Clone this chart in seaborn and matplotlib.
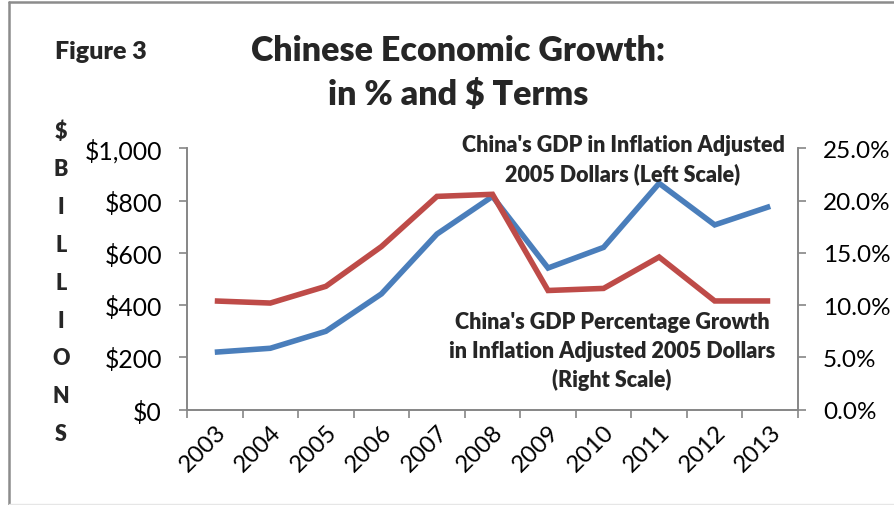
import matplotlib
matplotlib.use("Agg")
import matplotlib.pyplot as plt
import matplotlib.transforms as mtransforms
import seaborn as sns
import pandas as pd
import numpy as np
from matplotlib.lines import Line2D
from matplotlib.ticker import FixedLocator, FuncFormatter

# ---- data ----
years = ["2003", "2004", "2005", "2006", "2007", "2008", "2009", "2010", "2011", "2012", "2013"]
gdp_billions = [220, 235, 300, 443, 672, 816, 542, 621, 866, 707, 778]
growth_pct = [10.4, 10.2, 11.8, 15.6, 20.4, 20.6, 11.4, 11.6, 14.6, 10.4, 10.4]
left_ticks = [0, 200, 400, 600, 800, 1000]
right_ticks = [0, 5, 10, 15, 20, 25]

sns.set_theme(style="white")
plt.rcParams["font.family"] = ["Lato", "DejaVu Sans"]

W, H = 895, 506
fig = plt.figure(figsize=(W / 100, H / 100), dpi=100)

def fx(px):
    return px / W

def fy(py):
    return 1 - py / H

ax_l, ax_r = 187, 798
ax_t, ax_b = 149.3, 410.7
ax = fig.add_axes([fx(ax_l), fy(ax_b), fx(ax_r) - fx(ax_l), (ax_b - ax_t) / H])
ax2 = ax.twinx()

df = pd.DataFrame({"idx": np.arange(len(years)), "year": years,
                   "gdp": gdp_billions, "growth": growth_pct})

blue = "#4A7EBB"
red = "#BE4B48"
sns.lineplot(data=df, x="idx", y="gdp", ax=ax, color=blue, linewidth=4.0,
             solid_joinstyle="miter", solid_capstyle="butt")
sns.lineplot(data=df, x="idx", y="growth", ax=ax2, color=red, linewidth=4.0,
             solid_joinstyle="miter", solid_capstyle="butt")

axis_gray = "#868686"
for a in (ax, ax2):
    a.set_xlim(-0.5, len(years) - 0.5)
    a.set_xlabel("")
    a.set_ylabel("")
    a.grid(False)
    for s in a.spines.values():
        s.set_color(axis_gray)
        s.set_linewidth(1.2)
    a.spines["top"].set_visible(False)

ax.set_ylim(0, 1000)
ax2.set_ylim(0, 25)
ax.set_yticks(left_ticks)
ax.yaxis.set_major_formatter(FuncFormatter(lambda v, p: "${:,.0f}".format(v)))
ax2.set_yticks(right_ticks)
ax2.yaxis.set_major_formatter(FuncFormatter(lambda v, p: "{:.1f}%".format(v)))

ax.tick_params(axis="y", which="major", direction="out", length=6, width=1.2,
               color=axis_gray, pad=12, labelsize=17.8, labelcolor="black", left=True)
ax2.tick_params(axis="y", which="major", direction="out", length=6, width=1.2,
                color=axis_gray, pad=12, labelsize=17.5, labelcolor="black", right=True)

ax.set_xticks(np.arange(len(years)))
ax.set_xticklabels(years)
ax.xaxis.set_minor_locator(FixedLocator(np.arange(-0.5, len(years), 1.0)))
ax.tick_params(axis="x", which="major", length=0, pad=8, labelsize=17.2, labelcolor="black")
ax.tick_params(axis="x", which="minor", direction="out", length=6, width=1.2,
               color=axis_gray, bottom=True)
offset = mtransforms.ScaledTranslation(0 / 100, 0, fig.dpi_scale_trans)
for lab in ax.get_xticklabels():
    lab.set_rotation(45)
    lab.set_ha("right")
    lab.set_va("top")
    lab.set_rotation_mode("anchor")
    lab.set_transform(lab.get_transform() + offset)

ax2.set_zorder(ax.get_zorder() + 1)
ax.patch.set_visible(False)

# ---- texts ----
fw = "heavy"
fig.text(fx(101), fy(52), "Figure 3", ha="center", va="center",
         fontsize=18, fontweight=fw)
fig.text(fx(458), fy(51), "Chinese Economic Growth:", ha="center", va="center",
         fontsize=24.5, fontweight=fw)
fig.text(fx(458), fy(95), "in % and $ Terms", ha="center", va="center",
         fontsize=24.5, fontweight=fw)

letters = ["$", "B", "I", "L", "L", "I", "O", "N", "S"]
for i, ch in enumerate(letters):
    fig.text(fx(61), fy(132 + i * 37.8), ch, ha="center", va="center",
             fontsize=15.5, fontweight=fw)

fig.text(fx(623), fy(145), "China's GDP in Inflation Adjusted", ha="center", va="center",
         fontsize=15.5, fontweight=fw)
fig.text(fx(623), fy(174), "2005 Dollars (Left Scale)", ha="center", va="center",
         fontsize=15.5, fontweight=fw)

fig.text(fx(612), fy(323), "China's GDP Percentage Growth", ha="center", va="center",
         fontsize=15.5, fontweight=fw)
fig.text(fx(612), fy(352), "in Inflation Adjusted 2005 Dollars", ha="center", va="center",
         fontsize=15.5, fontweight=fw)
fig.text(fx(612), fy(380), "(Right Scale)", ha="center", va="center",
         fontsize=15.5, fontweight=fw)

# ---- frame lines ----
fig.add_artist(Line2D([fx(9), 1], [fy(3), fy(3)], color="#8C8C8C", linewidth=1.8))
fig.add_artist(Line2D([fx(9), fx(9)], [fy(3), 0], color="#8C8C8C", linewidth=1.8))
fig.add_artist(Line2D([fx(9), 1], [fy(505), fy(505)], color="#E6E6E6", linewidth=1.0))

fig.savefig("out.png", dpi=100)
